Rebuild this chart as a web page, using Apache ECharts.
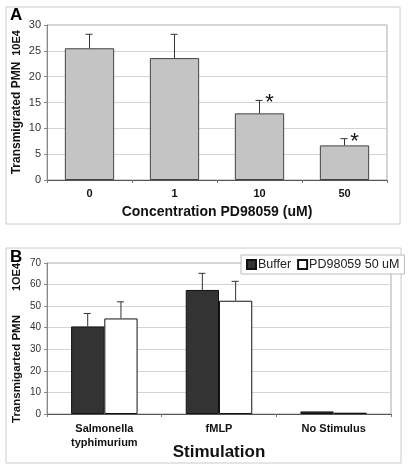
<!DOCTYPE html>
<html><head><meta charset="utf-8">
<script src="https://cdn.jsdelivr.net/npm/echarts@6/dist/echarts.min.js"></script>
<style>html,body{margin:0;padding:0;background:#fff}#c{width:409px;height:472px}</style>
</head><body><div id="c"></div>
<script>
// Panel A
var catsA = ['0', '1', '10', '50'];
var valsA = [25.5, 23.6, 12.9, 6.7];
var errTopA = [28.2, 28.2, 15.4, 8.0];
var sigA = ['', '', '*', '*'];
var ticksA = [0, 5, 10, 15, 20, 25, 30];
// Panel B
var catsB = ['Salmonella\ntyphimurium', 'fMLP', 'No Stimulus'];
var bufferB = [40.6, 57.5, 1.2];
var bufferErrB = [46.6, 65.2, null];
var pdB = [44.3, 52.5, 0.6];
var pdErrB = [52.0, 61.5, null];
var seriesNamesB = ['Buffer', 'PD98059 50 uM'];

var FONT = '"Liberation Sans", Arial, sans-serif';
var chart = echarts.init(document.getElementById('c'), null, {renderer: 'canvas'});

function errRender(vals, tops, sig, offsetFrac) {
  return function (params, api) {
    var i = api.value(0);
    var top = tops[i];
    if (top == null) return;
    var base = api.coord([i, vals[i]]);
    var tp = api.coord([i, top]);
    var band = api.size([1, 0])[0];
    var x = base[0] + band * offsetFrac;
    var st = {stroke: '#333', lineWidth: 1};
    var children = [
      {type: 'line', shape: {x1: x, y1: base[1], x2: x, y2: tp[1]}, style: st},
      {type: 'line', shape: {x1: x - 4, y1: tp[1], x2: x + 3, y2: tp[1]}, style: st}
    ];
    if (sig && sig[i]) {
      children.push({type: 'text', style: {text: sig[i], x: x + 10, y: tp[1] + 3, align: 'center', verticalAlign: 'middle', fontSize: 22, fontFamily: FONT, fill: '#111'}});
    }
    return {type: 'group', children: children};
  };
}

var idxA = catsA.map(function (c, i) { return i; });
var idxB = catsB.map(function (c, i) { return i; });
var BW = 0.29;

chart.setOption({
  animation: false,
  textStyle: {fontFamily: FONT},
  grid: [
    {left: 47, right: 22, top: 25, height: 155, show: true, borderColor: '#aaa', borderWidth: 1},
    {left: 47, right: 18, top: 263, height: 151, show: true, borderColor: '#aaa', borderWidth: 1}
  ],
  legend: {
    data: seriesNamesB, left: 241, top: 255, icon: 'rect', itemWidth: 9, itemHeight: 9, itemGap: 6,
    padding: [3, 5, 3, 5], backgroundColor: '#fff', borderColor: '#bbb', borderWidth: 1,
    textStyle: {fontSize: 12.5, color: '#222', fontFamily: FONT, padding: [0, 0, 0, -3]}
  },
  xAxis: [
    {type: 'category', gridIndex: 0, data: catsA,
      axisLine: {lineStyle: {color: '#555'}}, axisTick: {show: true, length: 3, lineStyle: {color: '#777'}},
      axisLabel: {fontSize: 11, fontWeight: 'bold', color: '#111', margin: 8},
      name: 'Concentration PD98059 (uM)', nameLocation: 'middle', nameGap: 25, nameMoveOverlap: false,
      nameTextStyle: {fontSize: 14, fontWeight: 'bold', color: '#111'}},
    {type: 'category', gridIndex: 1, data: catsB,
      axisLine: {lineStyle: {color: '#555'}}, axisTick: {show: true, length: 3, lineStyle: {color: '#777'}},
      axisLabel: {fontSize: 11, fontWeight: 'bold', color: '#111', margin: 8, lineHeight: 14},
      name: 'Stimulation', nameLocation: 'middle', nameGap: 30, nameMoveOverlap: false,
      nameTextStyle: {fontSize: 17, fontWeight: 'bold', color: '#111'}}
  ],
  yAxis: [
    {type: 'value', gridIndex: 0, min: ticksA[0], max: ticksA[ticksA.length - 1], interval: 5,
      axisLine: {show: true, lineStyle: {color: '#888'}}, axisTick: {show: true, length: 3, lineStyle: {color: '#888'}},
      axisLabel: {fontSize: 11, color: '#333', margin: 6},
      splitLine: {lineStyle: {color: '#d4d4d4'}}},
    {type: 'value', gridIndex: 1, min: 0, max: 70, interval: 10,
      axisLine: {show: true, lineStyle: {color: '#888'}}, axisTick: {show: true, length: 3, lineStyle: {color: '#888'}},
      axisLabel: {fontSize: 10, color: '#333', margin: 6},
      splitLine: {lineStyle: {color: '#d4d4d4'}}}
  ],
  series: [
    {type: 'bar', xAxisIndex: 0, yAxisIndex: 0, data: valsA, barWidth: '58%',
      itemStyle: {color: '#c4c4c4', borderColor: '#444', borderWidth: 1}},
    {type: 'custom', xAxisIndex: 0, yAxisIndex: 0, data: idxA, renderItem: errRender(valsA, errTopA, sigA, 0), z: 5},
    {type: 'bar', name: seriesNamesB[0], xAxisIndex: 1, yAxisIndex: 1, data: bufferB, barWidth: (BW * 100) + '%', barGap: '0%',
      itemStyle: {color: '#333', borderColor: '#111', borderWidth: 1}},
    {type: 'bar', name: seriesNamesB[1], xAxisIndex: 1, yAxisIndex: 1, data: pdB, barWidth: (BW * 100) + '%', barGap: '0%',
      itemStyle: {color: '#fff', borderColor: '#111', borderWidth: 1}},
    {type: 'custom', xAxisIndex: 1, yAxisIndex: 1, data: idxB, renderItem: errRender(bufferB, bufferErrB, null, -BW / 2), z: 5},
    {type: 'custom', xAxisIndex: 1, yAxisIndex: 1, data: idxB, renderItem: errRender(pdB, pdErrB, null, BW / 2), z: 5}
  ],
  graphic: [
    {type: 'rect', shape: {x: 6, y: 7, width: 394, height: 217}, style: {fill: 'none', stroke: '#ccc', lineWidth: 1}, z: -1},
    {type: 'rect', shape: {x: 6, y: 248, width: 395, height: 215}, style: {fill: 'none', stroke: '#ccc', lineWidth: 1}, z: -1},
    {type: 'text', left: 10, top: 7, style: {text: 'A', fontSize: 17, fontWeight: 'bold', fontFamily: FONT, fill: '#000'}},
    {type: 'text', left: 10, top: 249, style: {text: 'B', fontSize: 17, fontWeight: 'bold', fontFamily: FONT, fill: '#000'}},
    {type: 'text', x: 17, y: 118, rotation: Math.PI / 2, style: {text: 'Transmigrated PMN', align: 'center', verticalAlign: 'middle', fontSize: 12, fontWeight: 'bold', fontFamily: FONT, fill: '#111'}},
    {type: 'text', x: 17, y: 43, rotation: Math.PI / 2, style: {text: '10E4', align: 'center', verticalAlign: 'middle', fontSize: 11, fontWeight: 'bold', fontFamily: FONT, fill: '#111'}},
    {type: 'text', x: 17, y: 369, rotation: Math.PI / 2, style: {text: 'Transmigarted PMN', align: 'center', verticalAlign: 'middle', fontSize: 11.5, fontWeight: 'bold', fontFamily: FONT, fill: '#111'}},
    {type: 'text', x: 17, y: 277, rotation: Math.PI / 2, style: {text: '1OE4', align: 'center', verticalAlign: 'middle', fontSize: 11, fontWeight: 'bold', fontFamily: FONT, fill: '#111'}}
  ]
});
</script></body></html>
